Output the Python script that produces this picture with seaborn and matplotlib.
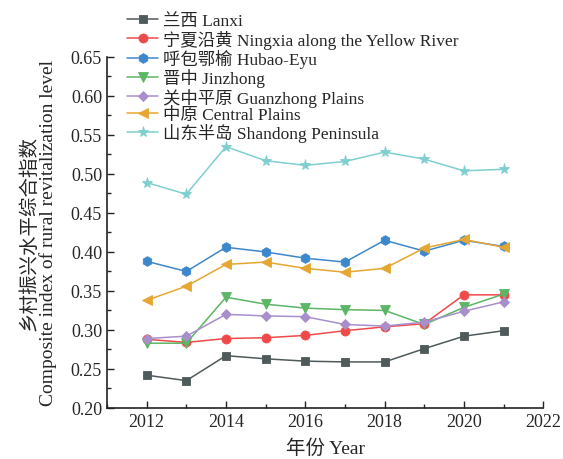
import pandas as pd
import matplotlib
matplotlib.use('Agg')
import matplotlib.pyplot as plt
import seaborn as sns
from matplotlib.ticker import MultipleLocator

years = list(range(2012, 2022))

lanxi = [0.242, 0.235, 0.267, 0.263, 0.260, 0.259, 0.259, 0.276, 0.292, 0.299]
ningxia = [0.288, 0.284, 0.289, 0.290, 0.293, 0.299, 0.304, 0.308, 0.345, 0.345]
hubao = [0.388, 0.375, 0.406, 0.400, 0.392, 0.387, 0.415, 0.401, 0.415, 0.407]
jinzhong = [0.283, 0.283, 0.342, 0.333, 0.328, 0.326, 0.325, 0.307, 0.329, 0.346]
guanzhong = [0.289, 0.292, 0.320, 0.318, 0.317, 0.307, 0.305, 0.310, 0.324, 0.336]
central = [0.338, 0.356, 0.384, 0.387, 0.379, 0.374, 0.379, 0.405, 0.416, 0.406]
shandong = [0.489, 0.474, 0.535, 0.517, 0.511, 0.516, 0.528, 0.519, 0.504, 0.506]

names = ['兰西 Lanxi', '宁夏沿黄 Ningxia along the Yellow River', '呼包鄂榆 Hubao-Eyu',
         '晋中 Jinzhong', '关中平原 Guanzhong Plains', '中原 Central Plains',
         '山东半岛 Shandong Peninsula']
values = [lanxi, ningxia, hubao, jinzhong, guanzhong, central, shandong]
colors = ['#4f5a5a', '#ef4a4a', '#3d88cc', '#5bb665', '#a88fcc', '#e5a632', '#7fcfd0']
markers = ['s', 'o', 'h', 'v', 'D', '<', '*']
msizes = [6, 6.5, 7, 7, 5.5, 7, 8]

sns.set_style('ticks')
plt.rcParams['font.family'] = ['Liberation Serif', 'Noto Sans CJK SC']
plt.rcParams['xtick.direction'] = 'in'
plt.rcParams['ytick.direction'] = 'in'

fig = plt.figure(figsize=(5.63, 4.60), dpi=100)
ax = fig.add_axes([0.190, 0.111, 0.775, 0.763])

for name, vals, c, m, ms in zip(names, values, colors, markers, msizes):
    df = pd.DataFrame({'Year': years, 'Value': vals})
    sns.lineplot(data=df, x='Year', y='Value', ax=ax, color=c, marker=m,
                 markersize=ms, markeredgewidth=0.6, markeredgecolor=c,
                 linewidth=1.1, label=name)

ax.set_xlim(2011, 2022)
ax.set_ylim(0.20, 0.65)
ax.xaxis.set_major_locator(MultipleLocator(2))
ax.xaxis.set_minor_locator(MultipleLocator(1))
ax.yaxis.set_major_locator(MultipleLocator(0.05))
ax.yaxis.set_minor_locator(MultipleLocator(0.025))
ax.yaxis.set_major_formatter(matplotlib.ticker.FormatStrFormatter('%.2f'))
ax.tick_params(which='major', length=5, width=1, labelsize=13, color='#222222')
ax.tick_params(which='minor', length=3, width=1, color='#222222')
for s in ['left', 'bottom']:
    ax.spines[s].set_linewidth(1.2)
    ax.spines[s].set_color('#222222')
sns.despine(ax=ax)

ax.set_xlabel('年份 Year', fontsize=14, labelpad=6)
ax.set_ylabel('乡村振兴水平综合指数\nComposite index of rural revitalization level',
              fontsize=14, linespacing=1.05, labelpad=10)

ax.legend(loc='upper left', bbox_to_anchor=(0.03, 1.145), frameon=False,
          fontsize=12.5, labelspacing=0.02, handlelength=1.8, handletextpad=0.3,
          borderaxespad=0)

fig.savefig('out.png', dpi=100)
